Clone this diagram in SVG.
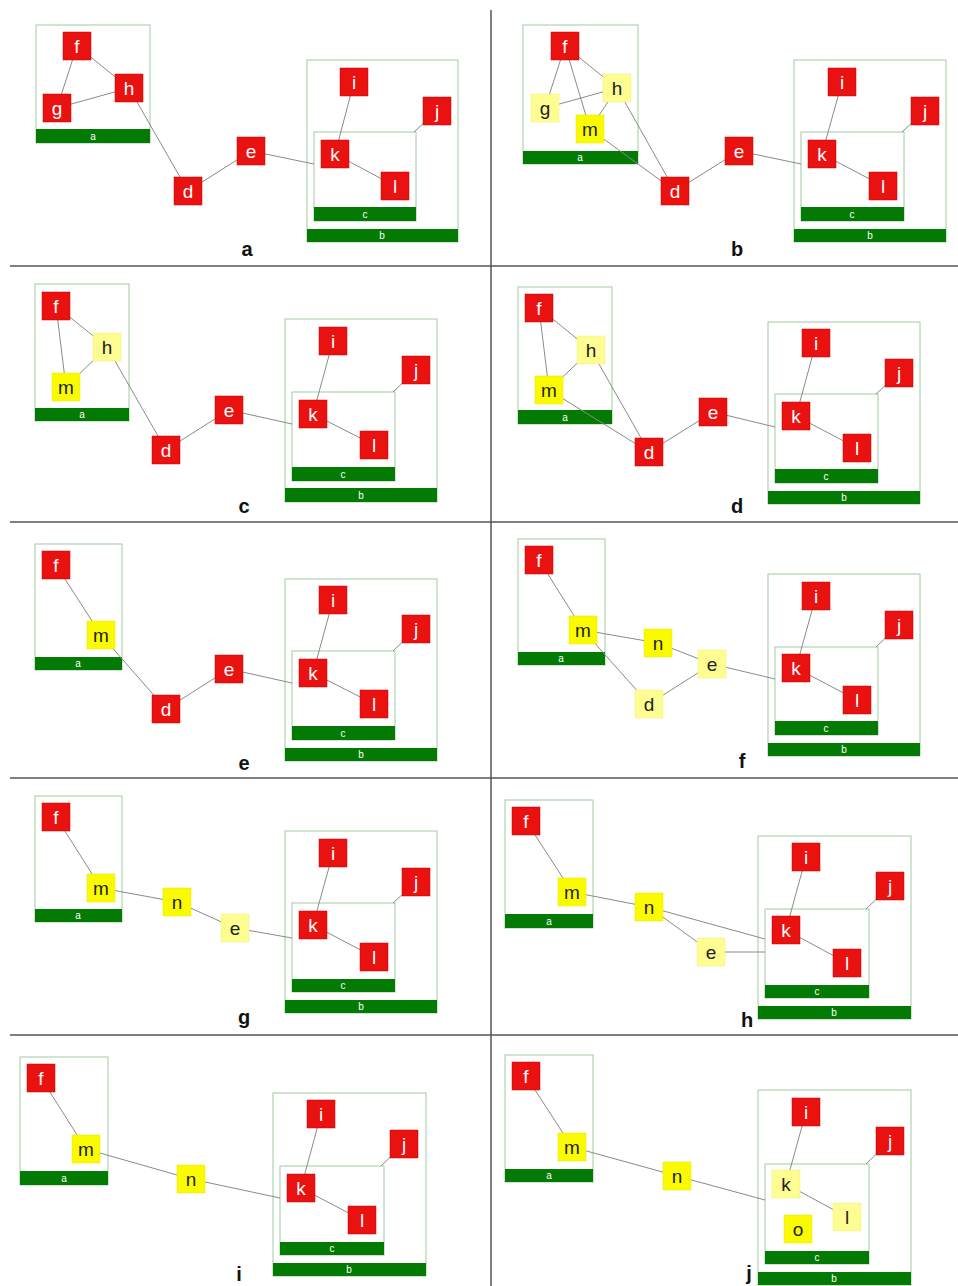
<svg xmlns="http://www.w3.org/2000/svg" width="958" height="1286" viewBox="0 0 958 1286">
<style>
.bg{fill:#fff}
.div{stroke:#555;stroke-width:1.5;fill:none}
.box{fill:none;stroke:#a2cca2;stroke-width:1}
.bar{fill:#037a03}
.bl{fill:#fff;font-family:"Liberation Sans",Arial,sans-serif;font-size:10px;text-anchor:middle}
.edge line{stroke:#8a8a8a;stroke-width:1}
.n rect{stroke-width:0.5}
.n text{font-family:"Liberation Sans",Arial,sans-serif;font-size:19px;text-anchor:middle}
.r rect{fill:#ea1111;stroke:#cc0000}
.r text{fill:#fff}
.y rect{fill:#fafa00;stroke:#e8e800}
.y text{fill:#222}
.ly rect{fill:#fdfd92;stroke:#eeee80}
.ly text{fill:#222}
.cap{font-family:"Liberation Sans",Arial,sans-serif;font-size:20px;font-weight:bold;text-anchor:middle;fill:#111}
</style>
<rect class="bg" x="0" y="0" width="958" height="1286"/>
<g id="dividers" class="div">
<line x1="10" y1="266" x2="958" y2="266"/>
<line x1="10" y1="522" x2="958" y2="522"/>
<line x1="10" y1="778" x2="958" y2="778"/>
<line x1="10" y1="1035" x2="958" y2="1035"/>
<line x1="491" y1="10" x2="491" y2="1286"/>
</g>

<!-- clusters -->
<g id="pa-cl-a"><rect class="box" x="36" y="25" width="114" height="118"/><rect class="bar" x="36" y="129" width="114" height="14"/><text class="bl" x="93" y="140">a</text></g>
<g id="pa-cl-b"><rect class="box" x="307" y="60" width="151" height="182"/><rect class="bar" x="307" y="229" width="151" height="13"/><text class="bl" x="382" y="239">b</text></g>
<g id="pa-cl-c"><rect class="box" x="314" y="132" width="102" height="89"/><rect class="bar" x="314" y="207" width="102" height="14"/><text class="bl" x="365" y="218">c</text></g>

<g id="pb-cl-a"><rect class="box" x="523" y="25" width="115" height="139"/><rect class="bar" x="523" y="151" width="115" height="13"/><text class="bl" x="580" y="161">a</text></g>
<g id="pb-cl-b"><rect class="box" x="794" y="60" width="152" height="182"/><rect class="bar" x="794" y="229" width="152" height="13"/><text class="bl" x="870" y="239">b</text></g>
<g id="pb-cl-c"><rect class="box" x="801" y="132" width="103" height="89"/><rect class="bar" x="801" y="207" width="103" height="14"/><text class="bl" x="852" y="218">c</text></g>

<g id="pc-cl-a"><rect class="box" x="35" y="284" width="94" height="137"/><rect class="bar" x="35" y="408" width="94" height="13"/><text class="bl" x="82" y="418">a</text></g>
<g id="pc-cl-b"><rect class="box" x="285" y="319" width="152" height="183"/><rect class="bar" x="285" y="488" width="152" height="14"/><text class="bl" x="361" y="499">b</text></g>
<g id="pc-cl-c"><rect class="box" x="292" y="392" width="103" height="89"/><rect class="bar" x="292" y="467" width="103" height="14"/><text class="bl" x="343" y="478">c</text></g>

<g id="pd-cl-a"><rect class="box" x="518" y="287" width="94" height="137"/><rect class="bar" x="518" y="410" width="94" height="14"/><text class="bl" x="565" y="421">a</text></g>
<g id="pd-cl-b"><rect class="box" x="768" y="322" width="152" height="182"/><rect class="bar" x="768" y="491" width="152" height="13"/><text class="bl" x="844" y="501">b</text></g>
<g id="pd-cl-c"><rect class="box" x="775" y="394" width="103" height="89"/><rect class="bar" x="775" y="469" width="103" height="14"/><text class="bl" x="826" y="480">c</text></g>

<g id="pe-cl-a"><rect class="box" x="35" y="544" width="87" height="126"/><rect class="bar" x="35" y="657" width="87" height="13"/><text class="bl" x="78" y="667">a</text></g>
<g id="pe-cl-b"><rect class="box" x="285" y="579" width="152" height="182"/><rect class="bar" x="285" y="748" width="152" height="13"/><text class="bl" x="361" y="758">b</text></g>
<g id="pe-cl-c"><rect class="box" x="292" y="651" width="103" height="89"/><rect class="bar" x="292" y="726" width="103" height="14"/><text class="bl" x="343" y="737">c</text></g>

<g id="pf-cl-a"><rect class="box" x="518" y="539" width="87" height="126"/><rect class="bar" x="518" y="652" width="87" height="13"/><text class="bl" x="561" y="662">a</text></g>
<g id="pf-cl-b"><rect class="box" x="768" y="574" width="152" height="182"/><rect class="bar" x="768" y="743" width="152" height="13"/><text class="bl" x="844" y="753">b</text></g>
<g id="pf-cl-c"><rect class="box" x="775" y="647" width="103" height="88"/><rect class="bar" x="775" y="721" width="103" height="14"/><text class="bl" x="826" y="732">c</text></g>

<g id="pg-cl-a"><rect class="box" x="35" y="796" width="87" height="126"/><rect class="bar" x="35" y="909" width="87" height="13"/><text class="bl" x="78" y="919">a</text></g>
<g id="pg-cl-b"><rect class="box" x="285" y="831" width="152" height="182"/><rect class="bar" x="285" y="1000" width="152" height="13"/><text class="bl" x="361" y="1010">b</text></g>
<g id="pg-cl-c"><rect class="box" x="292" y="903" width="103" height="89"/><rect class="bar" x="292" y="979" width="103" height="13"/><text class="bl" x="343" y="989">c</text></g>

<g id="ph-cl-a"><rect class="box" x="505" y="800" width="88" height="128"/><rect class="bar" x="505" y="914" width="88" height="14"/><text class="bl" x="549" y="925">a</text></g>
<g id="ph-cl-b"><rect class="box" x="758" y="836" width="153" height="183"/><rect class="bar" x="758" y="1006" width="153" height="13"/><text class="bl" x="834" y="1016">b</text></g>
<g id="ph-cl-c"><rect class="box" x="765" y="909" width="104" height="89"/><rect class="bar" x="765" y="985" width="104" height="13"/><text class="bl" x="817" y="995">c</text></g>

<g id="pi-cl-a"><rect class="box" x="20" y="1057" width="88" height="128"/><rect class="bar" x="20" y="1171" width="88" height="14"/><text class="bl" x="64" y="1182">a</text></g>
<g id="pi-cl-b"><rect class="box" x="273" y="1093" width="153" height="183"/><rect class="bar" x="273" y="1263" width="153" height="13"/><text class="bl" x="349" y="1273">b</text></g>
<g id="pi-cl-c"><rect class="box" x="280" y="1166" width="104" height="89"/><rect class="bar" x="280" y="1242" width="104" height="13"/><text class="bl" x="332" y="1252">c</text></g>

<g id="pj-cl-a"><rect class="box" x="505" y="1055" width="88" height="127"/><rect class="bar" x="505" y="1169" width="88" height="13"/><text class="bl" x="549" y="1179">a</text></g>
<g id="pj-cl-b"><rect class="box" x="758" y="1090" width="153" height="195"/><rect class="bar" x="758" y="1272" width="153" height="13"/><text class="bl" x="834" y="1282">b</text></g>
<g id="pj-cl-c"><rect class="box" x="765" y="1164" width="104" height="100"/><rect class="bar" x="765" y="1251" width="104" height="13"/><text class="bl" x="817" y="1261">c</text></g>

<!-- connectors -->
<g id="connectors" class="edge">
<line x1="77" y1="46" x2="57" y2="108"/>
<line x1="77" y1="46" x2="129" y2="88"/>
<line x1="57" y1="108" x2="129" y2="88"/>
<line x1="129" y1="88" x2="188" y2="191"/>
<line x1="188" y1="191" x2="251" y2="151"/>
<line x1="251" y1="151" x2="314" y2="164"/>
<line x1="354" y1="82" x2="335" y2="154"/>
<line x1="335" y1="154" x2="395" y2="186"/>
<line x1="414" y1="132" x2="437" y2="111"/>

<line x1="565" y1="46" x2="545" y2="108"/>
<line x1="565" y1="46" x2="617" y2="88"/>
<line x1="565" y1="46" x2="590" y2="129"/>
<line x1="545" y1="108" x2="617" y2="88"/>
<line x1="617" y1="88" x2="590" y2="129"/>
<line x1="617" y1="88" x2="675" y2="191"/>
<line x1="590" y1="129" x2="675" y2="191"/>
<line x1="675" y1="191" x2="739" y2="151"/>
<line x1="739" y1="151" x2="801" y2="164"/>
<line x1="842" y1="82" x2="822" y2="154"/>
<line x1="822" y1="154" x2="883" y2="186"/>
<line x1="902" y1="132" x2="925" y2="111"/>

<line x1="56" y1="306" x2="107" y2="347"/>
<line x1="56" y1="306" x2="66" y2="387"/>
<line x1="107" y1="347" x2="66" y2="387"/>
<line x1="107" y1="347" x2="166" y2="450"/>
<line x1="166" y1="450" x2="229" y2="410"/>
<line x1="229" y1="410" x2="292" y2="424"/>
<line x1="333" y1="341" x2="313" y2="414"/>
<line x1="313" y1="414" x2="374" y2="445"/>
<line x1="393" y1="392" x2="416" y2="370"/>

<line x1="539" y1="308" x2="591" y2="350"/>
<line x1="539" y1="308" x2="549" y2="390"/>
<line x1="591" y1="350" x2="549" y2="390"/>
<line x1="591" y1="350" x2="649" y2="452"/>
<line x1="549" y1="390" x2="649" y2="452"/>
<line x1="649" y1="452" x2="713" y2="412"/>
<line x1="713" y1="412" x2="775" y2="427"/>
<line x1="816" y1="343" x2="796" y2="416"/>
<line x1="796" y1="416" x2="857" y2="448"/>
<line x1="876" y1="394" x2="899" y2="373"/>

<line x1="56" y1="565" x2="101" y2="635"/>
<line x1="101" y1="635" x2="166" y2="709"/>
<line x1="166" y1="709" x2="229" y2="669"/>
<line x1="229" y1="669" x2="292" y2="683"/>
<line x1="333" y1="600" x2="313" y2="673"/>
<line x1="313" y1="673" x2="374" y2="704"/>
<line x1="393" y1="651" x2="416" y2="629"/>

<line x1="539" y1="560" x2="583" y2="630"/>
<line x1="583" y1="630" x2="658" y2="643"/>
<line x1="583" y1="630" x2="649" y2="704"/>
<line x1="658" y1="643" x2="712" y2="664"/>
<line x1="649" y1="704" x2="712" y2="664"/>
<line x1="712" y1="664" x2="775" y2="679"/>
<line x1="816" y1="596" x2="796" y2="668"/>
<line x1="796" y1="668" x2="857" y2="700"/>
<line x1="876" y1="647" x2="899" y2="625"/>

<line x1="56" y1="817" x2="101" y2="888"/>
<line x1="101" y1="888" x2="177" y2="902"/>
<line x1="177" y1="902" x2="235" y2="928"/>
<line x1="235" y1="928" x2="292" y2="938"/>
<line x1="333" y1="853" x2="313" y2="925"/>
<line x1="313" y1="925" x2="374" y2="957"/>
<line x1="393" y1="903" x2="416" y2="882"/>

<line x1="526" y1="821" x2="572" y2="892"/>
<line x1="572" y1="892" x2="649" y2="907"/>
<line x1="649" y1="907" x2="765" y2="939"/>
<line x1="649" y1="907" x2="711" y2="952"/>
<line x1="711" y1="952" x2="765" y2="952"/>
<line x1="806" y1="857" x2="786" y2="930"/>
<line x1="786" y1="930" x2="847" y2="963"/>
<line x1="866" y1="909" x2="890" y2="886"/>

<line x1="41" y1="1078" x2="86" y2="1149"/>
<line x1="86" y1="1149" x2="191" y2="1179"/>
<line x1="191" y1="1179" x2="280" y2="1198"/>
<line x1="321" y1="1114" x2="301" y2="1188"/>
<line x1="301" y1="1188" x2="362" y2="1220"/>
<line x1="381" y1="1166" x2="404" y2="1144"/>

<line x1="526" y1="1076" x2="572" y2="1147"/>
<line x1="572" y1="1147" x2="677" y2="1176"/>
<line x1="677" y1="1176" x2="765" y2="1200"/>
<line x1="806" y1="1112" x2="786" y2="1184"/>
<line x1="786" y1="1184" x2="847" y2="1217"/>
<line x1="866" y1="1164" x2="890" y2="1141"/>
</g>

<!-- panel a nodes -->
<g id="pa-f" class="n r"><rect x="63" y="32" width="28" height="28"/><text x="77" y="53">f</text></g>
<g id="pa-g" class="n r"><rect x="43" y="94" width="28" height="28"/><text x="57" y="115">g</text></g>
<g id="pa-h" class="n r"><rect x="115" y="74" width="28" height="28"/><text x="129" y="95">h</text></g>
<g id="pa-d" class="n r"><rect x="174" y="177" width="28" height="28"/><text x="188" y="198">d</text></g>
<g id="pa-e" class="n r"><rect x="237" y="137" width="28" height="28"/><text x="251" y="158">e</text></g>
<g id="pa-i" class="n r"><rect x="340" y="68" width="28" height="28"/><text x="354" y="89">i</text></g>
<g id="pa-j" class="n r"><rect x="423" y="97" width="28" height="28"/><text x="437" y="118">j</text></g>
<g id="pa-k" class="n r"><rect x="321" y="140" width="28" height="28"/><text x="335" y="161">k</text></g>
<g id="pa-l" class="n r"><rect x="381" y="172" width="28" height="28"/><text x="395" y="193">l</text></g>
<text class="cap" x="247" y="256">a</text>

<!-- panel b nodes -->
<g id="pb-f" class="n r"><rect x="551" y="32" width="28" height="28"/><text x="565" y="53">f</text></g>
<g id="pb-g" class="n ly"><rect x="531" y="94" width="28" height="28"/><text x="545" y="115">g</text></g>
<g id="pb-h" class="n ly"><rect x="603" y="74" width="28" height="28"/><text x="617" y="95">h</text></g>
<g id="pb-m" class="n y"><rect x="576" y="115" width="28" height="28"/><text x="590" y="136">m</text></g>
<g id="pb-d" class="n r"><rect x="661" y="177" width="28" height="28"/><text x="675" y="198">d</text></g>
<g id="pb-e" class="n r"><rect x="725" y="137" width="28" height="28"/><text x="739" y="158">e</text></g>
<g id="pb-i" class="n r"><rect x="828" y="68" width="28" height="28"/><text x="842" y="89">i</text></g>
<g id="pb-j" class="n r"><rect x="911" y="97" width="28" height="28"/><text x="925" y="118">j</text></g>
<g id="pb-k" class="n r"><rect x="808" y="140" width="28" height="28"/><text x="822" y="161">k</text></g>
<g id="pb-l" class="n r"><rect x="869" y="172" width="28" height="28"/><text x="883" y="193">l</text></g>
<text class="cap" x="737" y="256">b</text>

<!-- panel c nodes -->
<g id="pc-f" class="n r"><rect x="42" y="292" width="28" height="28"/><text x="56" y="313">f</text></g>
<g id="pc-h" class="n ly"><rect x="93" y="333" width="28" height="28"/><text x="107" y="354">h</text></g>
<g id="pc-m" class="n y"><rect x="52" y="373" width="28" height="28"/><text x="66" y="394">m</text></g>
<g id="pc-d" class="n r"><rect x="152" y="436" width="28" height="28"/><text x="166" y="457">d</text></g>
<g id="pc-e" class="n r"><rect x="215" y="396" width="28" height="28"/><text x="229" y="417">e</text></g>
<g id="pc-i" class="n r"><rect x="319" y="327" width="28" height="28"/><text x="333" y="348">i</text></g>
<g id="pc-j" class="n r"><rect x="402" y="356" width="28" height="28"/><text x="416" y="377">j</text></g>
<g id="pc-k" class="n r"><rect x="299" y="400" width="28" height="28"/><text x="313" y="421">k</text></g>
<g id="pc-l" class="n r"><rect x="360" y="431" width="28" height="28"/><text x="374" y="452">l</text></g>
<text class="cap" x="244" y="513">c</text>

<!-- panel d nodes -->
<g id="pd-f" class="n r"><rect x="525" y="294" width="28" height="28"/><text x="539" y="315">f</text></g>
<g id="pd-h" class="n ly"><rect x="577" y="336" width="28" height="28"/><text x="591" y="357">h</text></g>
<g id="pd-m" class="n y"><rect x="535" y="376" width="28" height="28"/><text x="549" y="397">m</text></g>
<g id="pd-d" class="n r"><rect x="635" y="438" width="28" height="28"/><text x="649" y="459">d</text></g>
<g id="pd-e" class="n r"><rect x="699" y="398" width="28" height="28"/><text x="713" y="419">e</text></g>
<g id="pd-i" class="n r"><rect x="802" y="329" width="28" height="28"/><text x="816" y="350">i</text></g>
<g id="pd-j" class="n r"><rect x="885" y="359" width="28" height="28"/><text x="899" y="380">j</text></g>
<g id="pd-k" class="n r"><rect x="782" y="402" width="28" height="28"/><text x="796" y="423">k</text></g>
<g id="pd-l" class="n r"><rect x="843" y="434" width="28" height="28"/><text x="857" y="455">l</text></g>
<text class="cap" x="737" y="513">d</text>

<!-- panel e nodes -->
<g id="pe-f" class="n r"><rect x="42" y="551" width="28" height="28"/><text x="56" y="572">f</text></g>
<g id="pe-m" class="n y"><rect x="87" y="621" width="28" height="28"/><text x="101" y="642">m</text></g>
<g id="pe-d" class="n r"><rect x="152" y="695" width="28" height="28"/><text x="166" y="716">d</text></g>
<g id="pe-e" class="n r"><rect x="215" y="655" width="28" height="28"/><text x="229" y="676">e</text></g>
<g id="pe-i" class="n r"><rect x="319" y="586" width="28" height="28"/><text x="333" y="607">i</text></g>
<g id="pe-j" class="n r"><rect x="402" y="615" width="28" height="28"/><text x="416" y="636">j</text></g>
<g id="pe-k" class="n r"><rect x="299" y="659" width="28" height="28"/><text x="313" y="680">k</text></g>
<g id="pe-l" class="n r"><rect x="360" y="690" width="28" height="28"/><text x="374" y="711">l</text></g>
<text class="cap" x="244" y="770">e</text>

<!-- panel f nodes -->
<g id="pf-f" class="n r"><rect x="525" y="546" width="28" height="28"/><text x="539" y="567">f</text></g>
<g id="pf-m" class="n y"><rect x="569" y="616" width="28" height="28"/><text x="583" y="637">m</text></g>
<g id="pf-n" class="n y"><rect x="644" y="629" width="28" height="28"/><text x="658" y="650">n</text></g>
<g id="pf-e" class="n ly"><rect x="698" y="650" width="28" height="28"/><text x="712" y="671">e</text></g>
<g id="pf-d" class="n ly"><rect x="635" y="690" width="28" height="28"/><text x="649" y="711">d</text></g>
<g id="pf-i" class="n r"><rect x="802" y="582" width="28" height="28"/><text x="816" y="603">i</text></g>
<g id="pf-j" class="n r"><rect x="885" y="611" width="28" height="28"/><text x="899" y="632">j</text></g>
<g id="pf-k" class="n r"><rect x="782" y="654" width="28" height="28"/><text x="796" y="675">k</text></g>
<g id="pf-l" class="n r"><rect x="843" y="686" width="28" height="28"/><text x="857" y="707">l</text></g>
<text class="cap" x="742" y="768">f</text>

<!-- panel g nodes -->
<g id="pg-f" class="n r"><rect x="42" y="803" width="28" height="28"/><text x="56" y="824">f</text></g>
<g id="pg-m" class="n y"><rect x="87" y="874" width="28" height="28"/><text x="101" y="895">m</text></g>
<g id="pg-n" class="n y"><rect x="163" y="888" width="28" height="28"/><text x="177" y="909">n</text></g>
<g id="pg-e" class="n ly"><rect x="221" y="914" width="28" height="28"/><text x="235" y="935">e</text></g>
<g id="pg-i" class="n r"><rect x="319" y="839" width="28" height="28"/><text x="333" y="860">i</text></g>
<g id="pg-j" class="n r"><rect x="402" y="868" width="28" height="28"/><text x="416" y="889">j</text></g>
<g id="pg-k" class="n r"><rect x="299" y="911" width="28" height="28"/><text x="313" y="932">k</text></g>
<g id="pg-l" class="n r"><rect x="360" y="943" width="28" height="28"/><text x="374" y="964">l</text></g>
<text class="cap" x="244" y="1024">g</text>

<!-- panel h nodes -->
<g id="ph-f" class="n r"><rect x="512" y="807" width="28" height="28"/><text x="526" y="828">f</text></g>
<g id="ph-m" class="n y"><rect x="558" y="878" width="28" height="28"/><text x="572" y="899">m</text></g>
<g id="ph-n" class="n y"><rect x="635" y="893" width="28" height="28"/><text x="649" y="914">n</text></g>
<g id="ph-e" class="n ly"><rect x="697" y="938" width="28" height="28"/><text x="711" y="959">e</text></g>
<g id="ph-i" class="n r"><rect x="792" y="843" width="28" height="28"/><text x="806" y="864">i</text></g>
<g id="ph-j" class="n r"><rect x="876" y="872" width="28" height="28"/><text x="890" y="893">j</text></g>
<g id="ph-k" class="n r"><rect x="772" y="916" width="28" height="28"/><text x="786" y="937">k</text></g>
<g id="ph-l" class="n r"><rect x="833" y="949" width="28" height="28"/><text x="847" y="970">l</text></g>
<text class="cap" x="747" y="1027">h</text>

<!-- panel i nodes -->
<g id="pi-f" class="n r"><rect x="27" y="1064" width="28" height="28"/><text x="41" y="1085">f</text></g>
<g id="pi-m" class="n y"><rect x="72" y="1135" width="28" height="28"/><text x="86" y="1156">m</text></g>
<g id="pi-n" class="n y"><rect x="177" y="1165" width="28" height="28"/><text x="191" y="1186">n</text></g>
<g id="pi-i" class="n r"><rect x="307" y="1100" width="28" height="28"/><text x="321" y="1121">i</text></g>
<g id="pi-j" class="n r"><rect x="390" y="1130" width="28" height="28"/><text x="404" y="1151">j</text></g>
<g id="pi-k" class="n r"><rect x="287" y="1174" width="28" height="28"/><text x="301" y="1195">k</text></g>
<g id="pi-l" class="n r"><rect x="348" y="1206" width="28" height="28"/><text x="362" y="1227">l</text></g>
<text class="cap" x="239" y="1281">i</text>

<!-- panel j nodes -->
<g id="pj-f" class="n r"><rect x="512" y="1062" width="28" height="28"/><text x="526" y="1083">f</text></g>
<g id="pj-m" class="n y"><rect x="558" y="1133" width="28" height="28"/><text x="572" y="1154">m</text></g>
<g id="pj-n" class="n y"><rect x="663" y="1162" width="28" height="28"/><text x="677" y="1183">n</text></g>
<g id="pj-i" class="n r"><rect x="792" y="1098" width="28" height="28"/><text x="806" y="1119">i</text></g>
<g id="pj-j" class="n r"><rect x="876" y="1127" width="28" height="28"/><text x="890" y="1148">j</text></g>
<g id="pj-k" class="n ly"><rect x="772" y="1170" width="28" height="28"/><text x="786" y="1191">k</text></g>
<g id="pj-l" class="n ly"><rect x="833" y="1203" width="28" height="28"/><text x="847" y="1224">l</text></g>
<g id="pj-o" class="n y"><rect x="784" y="1215" width="28" height="28"/><text x="798" y="1236">o</text></g>
<text class="cap" x="749" y="1280">j</text>
</svg>
